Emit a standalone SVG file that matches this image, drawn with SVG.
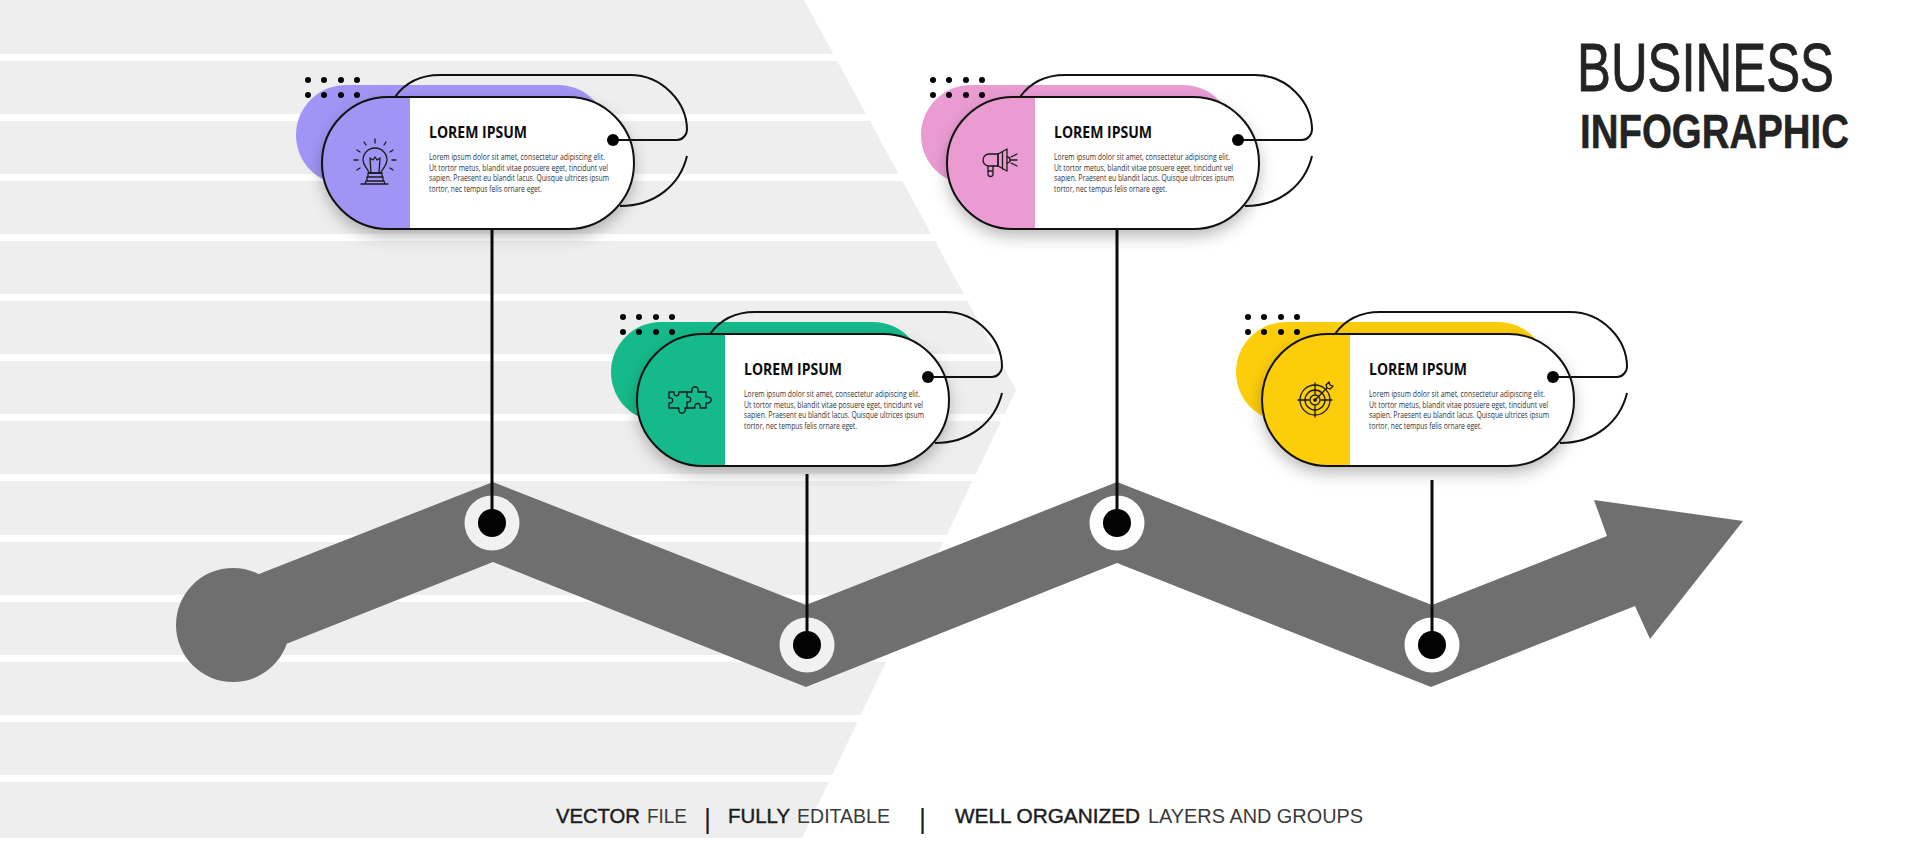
<svg xmlns="http://www.w3.org/2000/svg" xmlns:xlink="http://www.w3.org/1999/xlink" width="1920" height="845" viewBox="0 0 1920 845">
<style>
.bg{fill:#eeeeee}
.gap{fill:#ffffff}
.band{fill:#6f6f6f}
.line{fill:none;stroke:#0a0a0a;stroke-width:3}
.out{fill:none;stroke:#111;stroke-width:2}
.tint{fill:currentColor}
.face{fill:#fff;filter:url(#sh)}
.ico{fill:none;stroke:#1a1a1a;stroke-width:1.3;stroke-linejoin:round;stroke-linecap:round}
.t{font-family:"Open Sans","Liberation Sans",sans-serif;font-weight:700;font-size:15.5px;fill:#0c0c0c}
.b{font-family:"Open Sans","Liberation Sans",sans-serif;font-size:8.6px;fill:#333}
.h1{font-family:"Liberation Sans",Arial,sans-serif;font-size:68px;fill:#232323;stroke:#232323;stroke-width:.9px}
.h2{font-family:"Liberation Sans",Arial,sans-serif;font-weight:700;font-size:49px;fill:#232323;stroke:#232323;stroke-width:.5px}
.f1{font-family:"Liberation Sans",Arial,sans-serif;font-size:21px;fill:#1c1c1c;stroke:#1c1c1c;stroke-width:.45px}
.f2{font-family:"Liberation Sans",Arial,sans-serif;font-size:21px;fill:#3a3a3a}
.sep{font-family:"Liberation Sans",Arial,sans-serif;font-size:27px;fill:#1c1c1c}
</style>
<defs>
<filter id="sh" x="-15%" y="-20%" width="130%" height="150%"><feDropShadow dx="0" dy="7" stdDeviation="8" flood-color="#000" flood-opacity="0.28"/></filter>
<g id="frame">
<rect class="tint" x="296" y="85" width="312" height="100" rx="50"/>
<path class="out" d="M395 97C405 83 420 75 440 75H630C662 75 687 102 687 130C687 134 683 140 677 140H613"/>
<path class="out" d="M687 156C680 185 655 206 620 206"/>
<g fill="#050505">
<circle cx="308" cy="80" r="3"/><circle cx="324" cy="80" r="3"/><circle cx="341" cy="80" r="3"/><circle cx="357" cy="80" r="3"/>
<circle cx="308" cy="95" r="3"/><circle cx="324" cy="95" r="3"/><circle cx="341" cy="95" r="3"/><circle cx="357" cy="95" r="3"/>
</g>
<rect class="face" x="322" y="97" width="312" height="132" rx="66"/>
<path class="tint" d="M410 97H388A66 66 0 0 0 388 229H410Z"/>
<rect class="out" x="322" y="97" width="312" height="132" rx="66"/>
<path d="M613 140H640" stroke="#111" stroke-width="2"/>
<circle cx="613" cy="140" r="6" fill="#050505"/>
</g>
<g id="copy">
<text class="t" x="429" y="138" textLength="98" lengthAdjust="spacingAndGlyphs">LOREM IPSUM</text>
<text class="b" x="429" y="160" textLength="176" lengthAdjust="spacingAndGlyphs">Lorem ipsum dolor sit amet, consectetur adipiscing elit.</text>
<text class="b" x="429" y="170.500" textLength="179" lengthAdjust="spacingAndGlyphs">Ut tortor metus, blandit vitae posuere eget, tincidunt vel</text>
<text class="b" x="429" y="181" textLength="180" lengthAdjust="spacingAndGlyphs">sapien. Praesent eu blandit lacus. Quisque ultrices ipsum</text>
<text class="b" x="429" y="191.500" textLength="113" lengthAdjust="spacingAndGlyphs">tortor, nec tempus felis ornare eget.</text>
</g>
</defs>
<rect width="1920" height="845" fill="#fff"/>
<polygon class="bg" points="0,0 804,0 1016,390 802,838 0,838"/>
<g class="gap">
<rect x="0" y="54" width="1100" height="7"/><rect x="0" y="114" width="1100" height="7"/><rect x="0" y="174" width="1100" height="7"/><rect x="0" y="234" width="1100" height="7"/><rect x="0" y="294" width="1100" height="7"/><rect x="0" y="354" width="1100" height="7"/><rect x="0" y="414" width="1100" height="7"/><rect x="0" y="474" width="1100" height="7"/><rect x="0" y="535" width="1100" height="7"/><rect x="0" y="595" width="1100" height="7"/><rect x="0" y="655" width="1100" height="7"/><rect x="0" y="715" width="1100" height="7"/><rect x="0" y="775" width="1100" height="7"/>
</g>
<g id="track">
<circle class="band" cx="233" cy="625" r="57"/>
<polygon class="band" points="259,574 493,482 806,605 1117,482 1432,605 1607,536 1594,500 1743,521 1650,639 1635,606 1431,687 1117,563 806,687 493,562 286,644"/>
<circle cx="492" cy="523" r="27.500" fill="#f1f1f1"/>
<circle cx="807" cy="645" r="27.500" fill="#f1f1f1"/>
<circle cx="1117" cy="523" r="27.500" fill="#fff"/>
<circle cx="1432" cy="645" r="27.500" fill="#fff"/>
</g>
<g id="connectors">
<path class="line" d="M492 229V523"/>
<path class="line" d="M807 474V645"/>
<path class="line" d="M1117 229V523"/>
<path class="line" d="M1432 480V645"/>
<g fill="#030303">
<circle cx="492" cy="523" r="14"/><circle cx="807" cy="645" r="14"/><circle cx="1117" cy="523" r="14"/><circle cx="1432" cy="645" r="14"/>
</g>
</g>
<g id="node-idea" style="color:#a095f5">
<use href="#frame"/><use href="#copy"/>
<g class="ico" transform="translate(375,163)">
<path d="M-6 10C-7 5-12 3-12-3A12 12 0 1 1 12-3C12 3 7 5 6 10Z"/>
<path d="M-4 10L-5-5L-2-3L0-6L2-3L5-5L4 10"/>
<path d="M-7 10H7V14H-7ZM-8 14H8V18H-8ZM-14 21H13M-9 18L-10 21M9 18L10 21"/>
<path d="M0-20V-24M-9-18L-11-21M9-18L11-21M-15-11L-18-13M15-11L18-13M-17-3H-21M17-3H21M-15 5L-18 7M15 5L18 7"/>
</g>
</g>
<g id="node-puzzle" transform="translate(315,237)" style="color:#15b98b">
<use href="#frame"/><use href="#copy"/>
<g class="ico" transform="translate(375,163)">
<path d="M-21-8H-16C-17-3-10-3-11-8H-3V-3C2-4 2 3-3 2V8H-5C-3 15-13 15-11 8H-21V3C-16 4-16-3-21-2Z"/>
<path d="M-3-8H2C0-15 10-15 8-8H16V-3C23-4 23 4 16 3V8H10C12 2 3 2 5 8H-3"/>
</g>
</g>
<g id="node-megaphone" transform="translate(625,0)" style="color:#ea9bd2">
<use href="#frame"/><use href="#copy"/>
<g class="ico" transform="translate(375,163)">
<path d="M-2-9H-11A6 6 0 0 0-11 3H-2Z"/>
<path d="M-2-9L7-14V8L-2 3ZM2.500-11V6"/>
<path d="M-12 3V11A2.500 2.500 0 0 0-7 11V3M-12 8H-7"/>
<path d="M7-6A3 3 0 0 1 7 0M11-6L17-9M11-3H17M11 0L17 3"/>
</g>
</g>
<g id="node-target" transform="translate(940,237)" style="color:#fccd0a">
<use href="#frame"/><use href="#copy"/>
<g class="ico" transform="translate(375,163)">
<circle r="15"/><circle r="10"/><circle r="5"/>
<path d="M-17 0H-6M6 0H17M0-17V-6M0 6V17"/>
<path d="M0 0L12-12M11-15L12-12L15-11L18-14L15-15L14-18Z"/>
<circle r="1.200" fill="#1a1a1a"/>
</g>
</g>
<g id="heading">
<text class="h1" x="1577" y="91" textLength="257" lengthAdjust="spacingAndGlyphs">BUSINESS</text>
<text class="h2" x="1580" y="148" textLength="269" lengthAdjust="spacingAndGlyphs">INFOGRAPHIC</text>
</g>
<g id="footer">
<text class="f1" x="556" y="823" textLength="84" lengthAdjust="spacingAndGlyphs">VECTOR</text>
<text class="f2" x="647" y="823" textLength="40" lengthAdjust="spacingAndGlyphs">FILE</text>
<text class="sep" x="704" y="828">|</text>
<text class="f1" x="728" y="823" textLength="62" lengthAdjust="spacingAndGlyphs">FULLY</text>
<text class="f2" x="797" y="823" textLength="93" lengthAdjust="spacingAndGlyphs">EDITABLE</text>
<text class="sep" x="919" y="828">|</text>
<text class="f1" x="955" y="823" textLength="185" lengthAdjust="spacingAndGlyphs">WELL ORGANIZED</text>
<text class="f2" x="1148" y="823" textLength="215" lengthAdjust="spacingAndGlyphs">LAYERS AND GROUPS</text>
</g>
</svg>
